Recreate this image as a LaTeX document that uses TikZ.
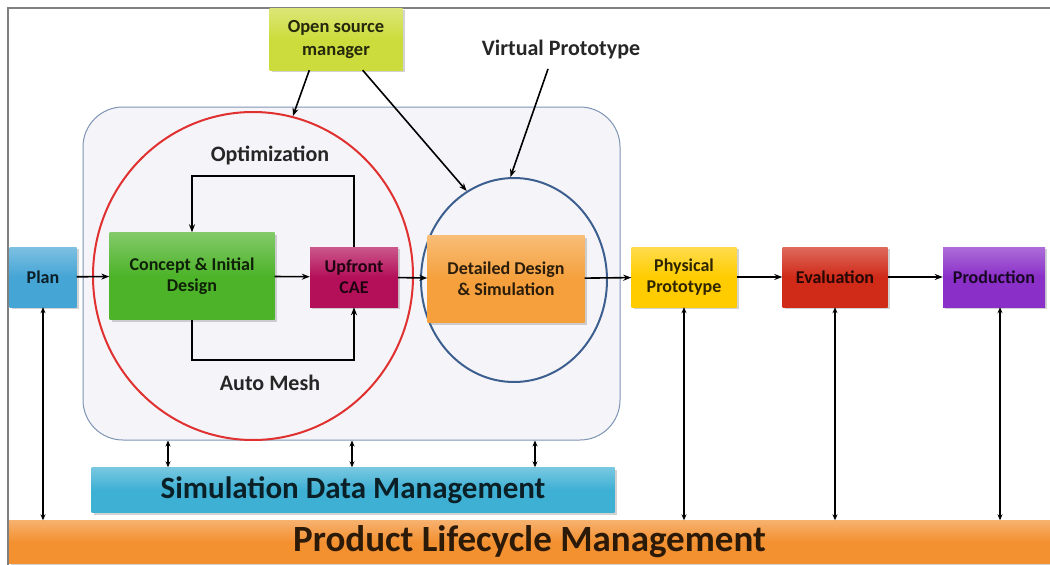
\documentclass[tikz,border=0pt]{standalone}
\usepackage{fontspec}
\setmainfont{Carlito}
\usetikzlibrary{arrows.meta,shapes.geometric,shadows,calc}
\definecolor{cplan}{HTML}{45A5D5}
\definecolor{ccon}{HTML}{4DB329}
\definecolor{cupf}{HTML}{B4105A}
\definecolor{cdet}{HTML}{F5A03C}
\definecolor{cphy}{HTML}{FFCC00}
\definecolor{ceva}{HTML}{D02A18}
\definecolor{cpro}{HTML}{8A2FC8}
\definecolor{cosm}{HTML}{CCDC3C}
\definecolor{csdm}{HTML}{3EB0D4}
\definecolor{cplm}{HTML}{F39030}
\definecolor{cvbox}{HTML}{F5F5F9}
\definecolor{cvline}{HTML}{7F95B5}
\definecolor{cred}{HTML}{E03030}
\definecolor{cblue}{HTML}{3D5F8F}
\tikzset{
  box/.style={rectangle, inner sep=2pt, align=center, font=\bfseries\fontsize{18}{21}\selectfont,
    drop shadow={shadow xshift=2pt, shadow yshift=-2pt, opacity=0.35}},
  colbox/.style={box, top color=#1!70!white, bottom color=#1, middle color=#1, text=#1!18!black},
  lbl/.style={font=\bfseries\fontsize{22}{24}\selectfont, text=black!85},
  arr/.style={line width=1.6pt, -{Stealth[length=8pt,width=6pt]}},
  darr/.style={line width=1.3pt, {Stealth[length=6pt,width=5pt]}-{Stealth[length=6pt,width=5pt]}},
}
\begin{document}
\begin{tikzpicture}[x=1pt,y=-1pt]
\useasboundingbox (0,0) rectangle (1050,565);
\fill[white] (0,0) rectangle (1050,565);
\draw[gray, line width=1.2pt] (8,565) -- (8,8) -- (1050,8);

% virtual box and circles
\node[draw=cvline, line width=1pt, fill=cvbox, rounded corners=40pt, minimum width=537pt, minimum height=333pt] (vb) at (351.5,273.5) {};
\node[ellipse, draw=cred, line width=2pt, minimum width=320pt, minimum height=328pt, inner sep=0pt] (rc) at (253,276) {};
\node[ellipse, draw=cblue, line width=2pt, minimum width=186pt, minimum height=204pt, inner sep=0pt] (ve) at (514,280) {};

% boxes
\node[colbox=cplan, minimum width=67pt, minimum height=60pt] (plan) at (43,277) {Plan};
\node[colbox=ccon, minimum width=165pt, minimum height=87pt] (con) at (192,276) {Concept \& Initial\\Design};
\node[colbox=cupf, minimum width=88pt, minimum height=60pt] (upf) at (354,277) {Upfront\\CAE};
\node[colbox=cdet, minimum width=157pt, minimum height=87pt] (det) at (506,279) {Detailed Design\\\& Simulation};
\node[colbox=cphy, minimum width=105pt, minimum height=60pt] (phy) at (684,277) {Physical\\Prototype};
\node[colbox=ceva, minimum width=105pt, minimum height=60pt] (eva) at (835,277) {Evaluation};
\node[colbox=cpro, minimum width=102pt, minimum height=60pt] (pro) at (994,277) {Production};
\node[colbox=cosm, minimum width=133pt, minimum height=62pt, font=\bfseries\fontsize{18.5}{23}\selectfont] (osm) at (336,39) {Open source\\manager};
\node[colbox=csdm, minimum width=523pt, minimum height=45pt, font=\bfseries\fontsize{31}{33}\selectfont] (sdm) at (353,490) {Simulation Data Management};
\node[colbox=cplm, minimum width=1041pt, minimum height=43pt, font=\bfseries\fontsize{37}{39}\selectfont] (plm) at (529.5,542) {Product Lifecycle Management};

% labels
\node[lbl] (opt) at (270,155) {Optimization};
\node[lbl] (am) at (270,383) {Auto Mesh};
\node[lbl] (vp) at (561,50) {Virtual Prototype};

% main flow
\draw[arr] (plan) -- (con);
\draw[arr] (con) -- (upf);
\draw[arr] (upf) -- (det);
\draw[arr] (det) -- (phy);
\draw[arr] (phy) -- (eva);
\draw[arr] (eva) -- (pro);

% loops
\coordinate (optTop) at (270,176);
\coordinate (meshBot) at (270,360);
\draw[arr] (upf.north) |- (optTop) -| (con.north);
\draw[arr] (con.south) |- (meshBot) -| (upf.south);

% pointer arrows
\coordinate (osmA) at ($(osm.south west)!0.3!(osm.south east)$);
\coordinate (osmB) at ($(osm.south west)!0.7!(osm.south east)$);
\draw[arr] (osmA) -- (rc.76);
\draw[arr] (osmB) -- (ve.118);
\coordinate (vpA) at ($(vp.south)+(-13,6)$);
\draw[arr] (vpA) -- (ve.92);

% SDM links
\foreach \x in {168,352,535} {
  \coordinate (s\x) at (\x,0);
  \draw[darr] (s\x |- vb.south) -- (s\x |- sdm.north);
}

% PLM links
\draw[darr] (plan.south) -- (plan.south |- plm.north);
\draw[darr] (phy.south) -- (phy.south |- plm.north);
\draw[darr] (eva.south) -- (eva.south |- plm.north);
\coordinate (proB) at ($(pro.south)+(6,0)$);
\draw[darr] (proB) -- (proB |- plm.north);
\end{tikzpicture}
\end{document}
